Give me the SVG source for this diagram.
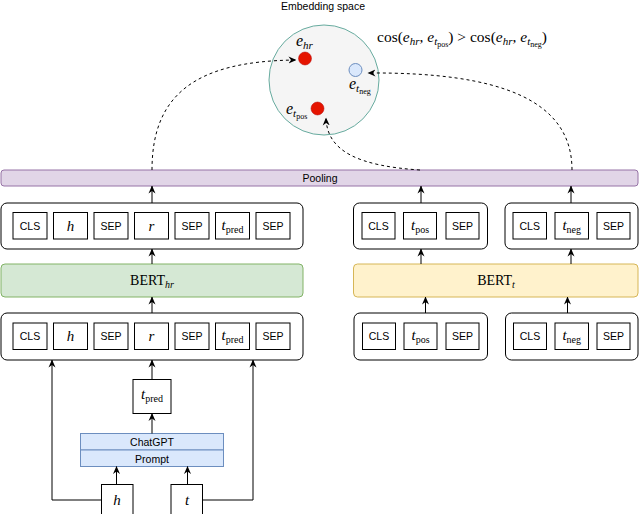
<svg xmlns="http://www.w3.org/2000/svg" width="640" height="514" viewBox="0 0 640 514">
<defs>
<marker id="ah" markerUnits="userSpaceOnUse" markerWidth="8" markerHeight="8" refX="7.5" refY="4" orient="auto">
<path d="M0,0.5 L8,4 L0,7.5 L2.5,4 z" fill="#000"/>
</marker>
<style>
.tok{fill:#fff;stroke:#000;stroke-width:1}
.cont{fill:#fff;stroke:#000;stroke-width:1}
.sans{font-family:"Liberation Sans",Arial,sans-serif;font-size:10.5px;fill:#000}
.math{font-family:"Liberation Serif","DejaVu Serif",serif;fill:#000}
.it{font-style:italic}
.ln{fill:none;stroke:#000;stroke-width:1;marker-end:url(#ah)}
.dash{fill:none;stroke:#000;stroke-width:1;stroke-dasharray:3 3;marker-end:url(#ah)}
</style>
</defs>
<rect width="640" height="514" fill="#fff"/>

<g id="embedding-space">
<text class="sans" x="323" y="10" text-anchor="middle" font-size="11">Embedding space</text>
<circle cx="324" cy="80" r="55" fill="#f5f5f5" stroke="#67ab9f" stroke-width="1"/>
<circle cx="305" cy="58.5" r="6.5" fill="#e51400" stroke="#b20000" stroke-width="0.5"/>
<circle cx="355.5" cy="70" r="6.5" fill="#dae8fc" stroke="#6c8ebf" stroke-width="1"/>
<circle cx="317.5" cy="108.5" r="6.5" fill="#e51400" stroke="#b20000" stroke-width="0.5"/>
<text class="math" x="296" y="46" font-size="16"><tspan class="it">e</tspan><tspan class="it" font-size="11" dy="3">hr</tspan></text>
<text class="math" x="349" y="89" font-size="16"><tspan class="it">e</tspan><tspan class="it" font-size="11" dy="3">t</tspan><tspan font-size="8" dy="2">neg</tspan></text>
<text class="math" x="286" y="114" font-size="16"><tspan class="it">e</tspan><tspan class="it" font-size="11" dy="3">t</tspan><tspan font-size="8" dy="2">pos</tspan></text>
</g>

<g id="formula">
<text class="math" x="377" y="42" font-size="15.5">cos(<tspan class="it">e</tspan><tspan class="it" font-size="11" dy="3">hr</tspan><tspan dy="-3">, </tspan><tspan class="it">e</tspan><tspan class="it" font-size="11" dy="3">t</tspan><tspan font-size="8" dy="2">pos</tspan><tspan dy="-5">) &gt; cos(</tspan><tspan class="it">e</tspan><tspan class="it" font-size="11" dy="3">hr</tspan><tspan dy="-3">, </tspan><tspan class="it">e</tspan><tspan class="it" font-size="11" dy="3">t</tspan><tspan font-size="8" dy="2">neg</tspan><tspan dy="-5">)</tspan></text>
</g>

<g id="pooling">
<rect x="1" y="170" width="637" height="16" rx="3" fill="#e1d5e7" stroke="#9673a6" stroke-width="1"/>
<text class="sans" x="320" y="182" text-anchor="middle" font-size="11">Pooling</text>
</g>

<g id="hr-output-tokens">
<rect class="cont" x="1" y="203" width="302" height="46" rx="6"/>
<rect class="tok" x="13" y="212.5" width="34" height="26.5"/>
<text class="sans" x="30" y="229.5" text-anchor="middle">CLS</text>
<rect class="tok" x="53.5" y="212.5" width="34" height="26.5"/>
<text class="math it" x="70.5" y="230.5" text-anchor="middle" font-size="15">h</text>
<rect class="tok" x="94" y="212.5" width="34" height="26.5"/>
<text class="sans" x="111" y="229.5" text-anchor="middle">SEP</text>
<rect class="tok" x="134.5" y="212.5" width="34" height="26.5"/>
<text class="math it" x="151.5" y="230.5" text-anchor="middle" font-size="15">r</text>
<rect class="tok" x="175" y="212.5" width="34" height="26.5"/>
<text class="sans" x="192" y="229.5" text-anchor="middle">SEP</text>
<rect class="tok" x="215.5" y="212.5" width="34" height="26.5"/>
<text class="math" x="232.5" y="229.5" text-anchor="middle" font-size="15"><tspan class="it">t</tspan><tspan font-size="10" dy="3">pred</tspan></text>
<rect class="tok" x="256" y="212.5" width="34" height="26.5"/>
<text class="sans" x="273" y="229.5" text-anchor="middle">SEP</text>
</g>

<g id="bert-hr">
<rect x="1" y="264" width="302" height="33" rx="4" fill="#d5e8d4" stroke="#82b366" stroke-width="1"/>
<text class="math" x="152" y="285" text-anchor="middle" font-size="14">BERT<tspan class="it" font-size="10" dy="3">hr</tspan></text>
</g>

<g id="hr-input-tokens">
<rect class="cont" x="1" y="313" width="302" height="47" rx="6"/>
<rect class="tok" x="13" y="323" width="34" height="26.5"/>
<text class="sans" x="30" y="340" text-anchor="middle">CLS</text>
<rect class="tok" x="53.5" y="323" width="34" height="26.5"/>
<text class="math it" x="70.5" y="341" text-anchor="middle" font-size="15">h</text>
<rect class="tok" x="94" y="323" width="34" height="26.5"/>
<text class="sans" x="111" y="340" text-anchor="middle">SEP</text>
<rect class="tok" x="134.5" y="323" width="34" height="26.5"/>
<text class="math it" x="151.5" y="341" text-anchor="middle" font-size="15">r</text>
<rect class="tok" x="175" y="323" width="34" height="26.5"/>
<text class="sans" x="192" y="340" text-anchor="middle">SEP</text>
<rect class="tok" x="215.5" y="323" width="34" height="26.5"/>
<text class="math" x="232.5" y="340" text-anchor="middle" font-size="15"><tspan class="it">t</tspan><tspan font-size="10" dy="3">pred</tspan></text>
<rect class="tok" x="256" y="323" width="34" height="26.5"/>
<text class="sans" x="273" y="340" text-anchor="middle">SEP</text>
</g>

<g id="t-pred">
<rect class="tok" x="133" y="379.5" width="38" height="34"/>
<text class="math" x="152" y="399" text-anchor="middle" font-size="15"><tspan class="it">t</tspan><tspan font-size="10" dy="3">pred</tspan></text>
</g>

<g id="chatgpt-prompt">
<rect x="80.5" y="433.5" width="143" height="16.5" fill="#dae8fc" stroke="#6c8ebf" stroke-width="1"/>
<text class="sans" x="152" y="445.5" text-anchor="middle" font-size="11">ChatGPT</text>
<rect x="80.5" y="450" width="143" height="16.5" fill="#dae8fc" stroke="#6c8ebf" stroke-width="1"/>
<text class="sans" x="152" y="462.5" text-anchor="middle" font-size="11">Prompt</text>
</g>

<g id="h-input">
<rect class="tok" x="101.5" y="484.5" width="31.5" height="32"/>
<text class="math it" x="117" y="504.5" text-anchor="middle" font-size="15">h</text>
</g>

<g id="t-input">
<rect class="tok" x="171" y="484.5" width="31.5" height="32"/>
<text class="math it" x="187" y="504.5" text-anchor="middle" font-size="15">t</text>
</g>

<g id="tpos-output-tokens">
<rect class="cont" x="353.5" y="203" width="134" height="46" rx="6"/>
<rect class="tok" x="362" y="212.5" width="33" height="26.5"/>
<text class="sans" x="378.5" y="229.5" text-anchor="middle">CLS</text>
<rect class="tok" x="403.5" y="212.5" width="33" height="26.5"/>
<text class="math" x="420" y="229.5" text-anchor="middle" font-size="15"><tspan class="it">t</tspan><tspan font-size="10" dy="3">pos</tspan></text>
<rect class="tok" x="446" y="212.5" width="33" height="26.5"/>
<text class="sans" x="462.5" y="229.5" text-anchor="middle">SEP</text>
</g>

<g id="tneg-output-tokens">
<rect class="cont" x="505" y="203" width="133" height="46" rx="6"/>
<rect class="tok" x="513" y="212.5" width="33.5" height="26.5"/>
<text class="sans" x="529.75" y="229.5" text-anchor="middle">CLS</text>
<rect class="tok" x="555" y="212.5" width="33.5" height="26.5"/>
<text class="math" x="571.75" y="229.5" text-anchor="middle" font-size="15"><tspan class="it">t</tspan><tspan font-size="10" dy="3">neg</tspan></text>
<rect class="tok" x="597" y="212.5" width="33" height="26.5"/>
<text class="sans" x="613.5" y="229.5" text-anchor="middle">SEP</text>
</g>

<g id="bert-t">
<rect x="353.5" y="264" width="284.5" height="33" rx="4" fill="#fff2cc" stroke="#d6b656" stroke-width="1"/>
<text class="math" x="496" y="285" text-anchor="middle" font-size="14">BERT<tspan class="it" font-size="10" dy="3">t</tspan></text>
</g>

<g id="tpos-input-tokens">
<rect class="cont" x="354" y="313" width="133.5" height="47" rx="6"/>
<rect class="tok" x="362.5" y="323" width="33" height="26.5"/>
<text class="sans" x="379" y="340" text-anchor="middle">CLS</text>
<rect class="tok" x="404" y="323" width="33" height="26.5"/>
<text class="math" x="420.5" y="340" text-anchor="middle" font-size="15"><tspan class="it">t</tspan><tspan font-size="10" dy="3">pos</tspan></text>
<rect class="tok" x="446" y="323" width="33" height="26.5"/>
<text class="sans" x="462.5" y="340" text-anchor="middle">SEP</text>
</g>

<g id="tneg-input-tokens">
<rect class="cont" x="505.5" y="313" width="132.5" height="47" rx="6"/>
<rect class="tok" x="513.5" y="323" width="33" height="26.5"/>
<text class="sans" x="530" y="340" text-anchor="middle">CLS</text>
<rect class="tok" x="555" y="323" width="33.5" height="26.5"/>
<text class="math" x="571.75" y="340" text-anchor="middle" font-size="15"><tspan class="it">t</tspan><tspan font-size="10" dy="3">neg</tspan></text>
<rect class="tok" x="597" y="323" width="33" height="26.5"/>
<text class="sans" x="613.5" y="340" text-anchor="middle">SEP</text>
</g>

<g id="connectors">
<path class="ln" d="M152 203 V186"/>
<path class="ln" d="M152 264 V249"/>
<path class="ln" d="M152 313 V297"/>
<path class="ln" d="M152 379.5 V360"/>
<path class="ln" d="M152 433.5 V413.5"/>
<path class="ln" d="M116.5 484.5 V466.5"/>
<path class="ln" d="M187.5 484.5 V466.5"/>
<path class="ln" d="M101.5 500 H52 V360"/>
<path class="ln" d="M202.5 500 H253 V360"/>
<path class="ln" d="M421 203 V186"/>
<path class="ln" d="M421 264 V249"/>
<path class="ln" d="M571 203 V186"/>
<path class="ln" d="M571 264 V249"/>
<path class="ln" d="M425.5 313 V297"/>
<path class="ln" d="M567.5 313 V297"/>
<path class="dash" d="M152 170 C152 95 195 61 296 60"/>
<path class="dash" d="M420 170 C360 166 327 152 326 118"/>
<path class="dash" d="M572 170 C572 100 500 72 368 73"/>
</g>
</svg>
